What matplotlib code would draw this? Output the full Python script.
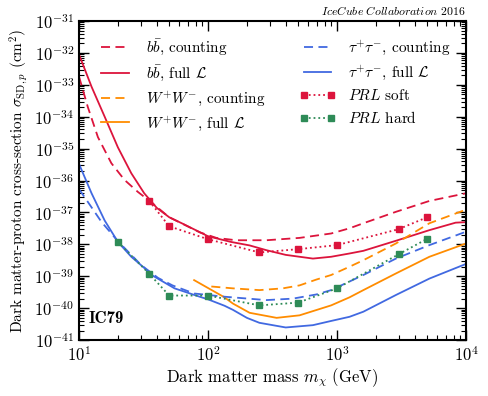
import numpy as np
import matplotlib
matplotlib.use('Agg')
import matplotlib.pyplot as plt
from matplotlib.ticker import LogLocator, NullFormatter

plt.rcParams['font.family'] = 'serif'
plt.rcParams['font.serif'] = ['cmr10']
plt.rcParams['mathtext.fontset'] = 'cm'
plt.rcParams['axes.formatter.use_mathtext'] = True

# limits (mass in GeV, cross-section in cm^2)
bb_count_m = [10, 11.7, 14, 17.8, 22.5, 28.6, 35.2, 50, 86, 116, 165, 283, 512, 900, 1250, 1600, 2860, 5200, 10000]
bb_count_s = [1.8e-33, 2.0e-34, 2.3e-35, 3.5e-36, 1.05e-36, 4.4e-37, 2.3e-37, 7.1e-38, 2.4e-38, 1.6e-38,
              1.35e-38, 1.35e-38, 1.6e-38, 2.2e-38, 3.2e-38, 4.6e-38, 1.05e-37, 2.3e-37, 4.0e-37]

bb_full_m = [10, 12.5, 15.8, 20, 25.4, 32, 40, 50, 64, 100, 150, 210, 283, 400, 650, 900, 1250, 1600, 2860, 5200, 8300, 10000]
bb_full_s = [8.9e-33, 8.7e-34, 1.0e-34, 1.1e-35, 1.7e-36, 4.0e-37, 1.4e-37, 7.1e-38, 4.4e-38, 1.8e-38, 1.2e-38,
             9.3e-39, 6.6e-39, 4.7e-39, 3.6e-39, 4.1e-39, 5.2e-39, 6.3e-39, 1.3e-38, 2.8e-38, 4.8e-38, 5.0e-38]

ww_count_m = [106, 156, 250, 380, 512, 690, 900, 1250, 1600, 2860, 5200, 10000]
ww_count_s = [4.8e-40, 4.2e-40, 3.7e-40, 4.2e-40, 5.2e-40, 7.9e-40, 1.1e-39, 2.0e-39, 3.2e-39, 1.07e-38, 4.6e-38, 1.23e-37]

ww_full_m = [78, 134, 156, 210, 340, 512, 900, 1250, 1600, 2860, 5200, 10000]
ww_full_s = [7.6e-40, 2.2e-40, 1.4e-40, 7.2e-41, 5.0e-41, 6.0e-41, 1.23e-40, 2.2e-40, 3.7e-40, 1.23e-39, 4.1e-39, 1.07e-38]

tau_count_m = [10, 12.5, 14.9, 17.8, 20, 30.5, 41, 53, 78, 134, 283, 454, 690, 900, 1600, 2860, 5200, 10000]
tau_count_s = [5.4e-37, 1.45e-37, 5.1e-38, 2.2e-38, 1.26e-38, 2.2e-39, 8.9e-40, 5.2e-40, 2.9e-40, 2.3e-40,
               1.8e-40, 2.0e-40, 2.7e-40, 3.7e-40, 1.1e-39, 3.6e-39, 9.5e-39, 2.5e-38]

tau_full_m = [10, 12.5, 15.8, 20, 25.4, 32.2, 36.5, 55, 86, 100, 134, 156, 200, 250, 400, 650, 900, 1250, 1600, 2860, 5200, 10000]
tau_full_s = [3.3e-36, 4.0e-37, 5.6e-38, 1.2e-38, 4.1e-39, 1.8e-39, 1.1e-39, 4.2e-40, 2.3e-40, 1.9e-40, 1.2e-40,
              8.9e-41, 5.0e-41, 3.5e-41, 2.5e-41, 2.95e-41, 4.0e-41, 5.4e-41, 7.8e-41, 2.6e-40, 8.5e-40, 2.45e-39]

prl_soft_m = [35, 50, 100, 250, 500, 1000, 3000, 5000]
prl_soft_s = [2.3e-37, 3.7e-38, 1.45e-38, 5.6e-39, 7.1e-39, 9.5e-39, 3.0e-38, 7.1e-38]

prl_hard_m = [20, 35, 50, 100, 250, 500, 1000, 3000, 5000]
prl_hard_s = [1.2e-38, 1.2e-39, 2.5e-40, 2.5e-40, 1.23e-40, 1.5e-40, 4.2e-40, 4.9e-39, 1.5e-38]

RED = '#dc143c'
ORANGE = '#ff8c00'
BLUE = '#4169e1'
GREEN = '#2e8b57'

fig = plt.figure(figsize=(4.88, 3.96), dpi=100)
ax = fig.add_axes([0.162, 0.141, 0.793, 0.806])

lw = 1.3
dash = (5, 3)
ax.plot(bb_count_m, bb_count_s, color=RED, lw=lw, dashes=dash, label=r'$b\bar{b}$, counting')
ax.plot(bb_full_m, bb_full_s, color=RED, lw=lw, label=r'$b\bar{b}$, full $\mathcal{L}$')
ax.plot(ww_count_m, ww_count_s, color=ORANGE, lw=lw, dashes=dash, label=r'$W^{+}W^{-}$, counting')
ax.plot(ww_full_m, ww_full_s, color=ORANGE, lw=lw, label=r'$W^{+}W^{-}$, full $\mathcal{L}$')
ax.plot(tau_count_m, tau_count_s, color=BLUE, lw=lw, dashes=dash, label=r'$\tau^{+}\tau^{-}$, counting')
ax.plot(tau_full_m, tau_full_s, color=BLUE, lw=lw, label=r'$\tau^{+}\tau^{-}$, full $\mathcal{L}$')
ax.plot(prl_soft_m, prl_soft_s, color=RED, lw=lw, ls=':', marker='s', ms=4.5, label=r'$PRL$ soft')
ax.plot(prl_hard_m, prl_hard_s, color=GREEN, lw=lw, ls=':', marker='s', ms=4.5, label=r'$PRL$ hard')

ax.set_xscale('log')
ax.set_yscale('log')
ax.set_xlim(10, 1e4)
ax.set_ylim(1e-41, 1e-31)
ax.set_yticks(np.logspace(-41, -31, 11))
ax.set_xticks(np.logspace(1, 4, 4))
ax.yaxis.set_minor_locator(LogLocator(base=10, subs=np.arange(2, 10), numticks=200))
ax.yaxis.set_minor_formatter(NullFormatter())
ax.xaxis.set_minor_locator(LogLocator(base=10, subs=np.arange(2, 10), numticks=200))
ax.xaxis.set_minor_formatter(NullFormatter())
ax.set_ylim(1e-41, 1e-31)
ax.set_xlim(10, 1e4)

ax.tick_params(which='both', direction='in', top=True, right=True, labelsize=12)
ax.tick_params(which='major', length=7, width=1.0)
ax.tick_params(which='minor', length=3.5, width=0.8)
for s in ax.spines.values():
    s.set_linewidth(1.5)

ax.set_xlabel(r'Dark matter mass $m_\chi$ (GeV)', fontsize=12, labelpad=2)
ax.set_ylabel(r'Dark matter-proton cross-section $\sigma_{\mathrm{SD},p}$ (cm$^2$)', fontsize=11, labelpad=3)

ax.legend(loc='upper left', ncol=2, frameon=False, fontsize=11, numpoints=2,
          handlelength=2.4, columnspacing=2.2, labelspacing=0.42, bbox_to_anchor=(0.01, 0.99))

ax.text(0.025, 0.045, 'IC79', family='cmb10', transform=ax.transAxes, fontsize=12, ha='left', va='bottom')
fig.text(0.955, 0.957, r'$\mathit{IceCube\ Collaboration}$ 2016', fontsize=8.5, ha='right', va='bottom')

fig.savefig('out.png', dpi=100)
